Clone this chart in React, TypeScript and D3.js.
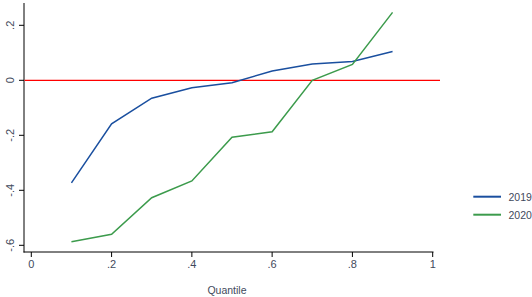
import * as d3 from "d3";
import { useEffect, useRef } from "react";

// данные с картинки
const quantiles = [0.1, 0.2, 0.3, 0.4, 0.5, 0.6, 0.7, 0.8, 0.9];
const values2019 = [-0.373, -0.158, -0.065, -0.027, -0.009, 0.034, 0.059, 0.068, 0.105];
const values2020 = [-0.587, -0.56, -0.427, -0.366, -0.207, -0.187, 0.0, 0.058, 0.247];
const xTicks = [0, 0.2, 0.4, 0.6, 0.8, 1];
const yTicks = [-0.6, -0.4, -0.2, 0, 0.2];
const seriesNames = ["2019", "2020"];
const seriesColors = ["#1a4f9f", "#3c9b4c"];

const fmt = (v: number) => {
  if (v === 0) return "0";
  if (v === 1) return "1";
  return (v < 0 ? "-" : "") + "." + String(Math.round(Math.abs(v) * 10));
};

const App = () => {
  const ref = useRef<SVGSVGElement>(null);

  useEffect(() => {
    const svg = d3.select(ref.current);
    svg.selectAll("*").remove();

    const font = "'Liberation Sans Narrow', 'Liberation Sans', Arial, sans-serif";
    const textColor = "#3f4a5c";

    const x = d3.scaleLinear().domain([0, 1]).range([31.3, 432.7]);
    const y = d3.scaleLinear().domain([0, 0.2]).range([80.3, 25.3]);

    // оси
    svg.append("line")
      .attr("x1", 24).attr("x2", 24).attr("y1", 3).attr("y2", 252.5)
      .attr("stroke", "#000").attr("stroke-width", 1);
    svg.append("line")
      .attr("x1", 23.5).attr("x2", 433.5).attr("y1", 252).attr("y2", 252)
      .attr("stroke", "#000").attr("stroke-width", 1);

    yTicks.forEach((t) => {
      svg.append("line")
        .attr("x1", 19).attr("x2", 24).attr("y1", y(t)).attr("y2", y(t))
        .attr("stroke", "#000");
      svg.append("text")
        .attr("transform", `translate(14, ${y(t)}) rotate(-90)`)
        .attr("text-anchor", "middle")
        .attr("font-family", font)
        .attr("font-size", 11)
        .attr("fill", textColor)
        .text(fmt(t));
    });

    xTicks.forEach((t) => {
      svg.append("line")
        .attr("x1", x(t)).attr("x2", x(t)).attr("y1", 252).attr("y2", 257)
        .attr("stroke", "#000");
      svg.append("text")
        .attr("x", x(t)).attr("y", 268)
        .attr("text-anchor", "middle")
        .attr("font-family", font)
        .attr("font-size", 11)
        .attr("fill", textColor)
        .text(fmt(t));
    });

    svg.append("text")
      .attr("x", 227).attr("y", 294)
      .attr("text-anchor", "middle")
      .attr("font-family", font)
      .attr("font-size", 10.5)
      .attr("fill", textColor)
      .text("Quantile");

    // линия нуля
    svg.append("line")
      .attr("x1", 24.5).attr("x2", 440).attr("y1", y(0)).attr("y2", y(0))
      .attr("stroke", "#ff0000").attr("stroke-width", 1.2);

    const line = d3.line<[number, number]>()
      .x((d) => x(d[0]))
      .y((d) => y(d[1]));

    [values2019, values2020].forEach((vals, i) => {
      svg.append("path")
        .datum(quantiles.map((q, j) => [q, vals[j]] as [number, number]))
        .attr("d", line)
        .attr("fill", "none")
        .attr("stroke", seriesColors[i])
        .attr("stroke-width", 1.5);
    });

    // легенда
    seriesNames.forEach((name, i) => {
      const ly = 196.7 + i * 18;
      svg.append("line")
        .attr("x1", 473.3).attr("x2", 501).attr("y1", ly).attr("y2", ly)
        .attr("stroke", seriesColors[i]).attr("stroke-width", 2);
      svg.append("text")
        .attr("x", 508.5).attr("y", ly + 3.8)
        .attr("font-family", font)
        .attr("font-size", 10.5)
        .attr("fill", textColor)
        .text(name);
    });
  }, []);

  return (
    <svg
      ref={ref}
      width={532}
      height={297}
      style={{ position: "absolute", left: 0, top: 0, background: "#fff" }}
    />
  );
};

export default App;
